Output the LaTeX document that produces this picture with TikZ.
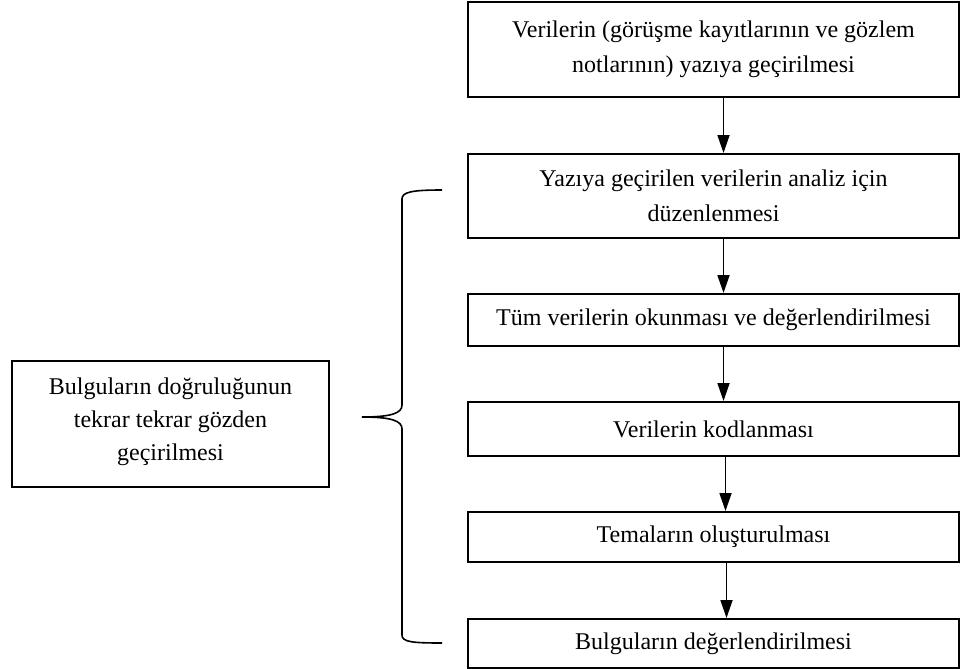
\documentclass[tikz,border=0pt]{standalone}
\usepackage{fontspec}
\setmainfont{Liberation Serif}
\usetikzlibrary{arrows.meta}
\begin{document}
\begin{tikzpicture}[x=1pt,y=-1pt,
 box/.style={draw, line width=2pt, minimum width=491pt, align=center, inner sep=0pt, font=\fontsize{24}{35}\selectfont},
 arr/.style={line width=1.8pt, -{Triangle[width=12pt,length=18pt]}},
 brace/.style={line width=1.6pt}]
\useasboundingbox (0,0) rectangle (961,669);
\node[box, minimum height=95pt] (b1) at (713.5,49.5) {Verilerin (görüşme kayıtlarının ve gözlem\\notlarının) yazıya geçirilmesi};
\node[box, minimum height=84pt] (b2) at (713.5,196) {Yazıya geçirilen verilerin analiz için\\düzenlenmesi};
\node[box, minimum height=52pt] (b3) at (713.5,320) {Tüm verilerin okunması ve değerlendirilmesi};
\node[box, minimum height=54pt] (b4) at (713.5,429) {Verilerin kodlanması};
\node[box, minimum height=50pt] (b5) at (713.5,537) {Temaların oluşturulması};
\node[box, minimum height=49pt] (b6) at (713.5,643.5) {Bulguların değerlendirilmesi};
\node[box, minimum width=317pt, minimum height=126pt, text height=80pt, text depth=8pt, font=\fontsize{24}{33}\selectfont] (left) at (170.5,424) {Bulguların doğruluğunun\\tekrar tekrar gözden\\geçirilmesi};
\draw[arr] ([xshift=10pt]b1.south) -- ([xshift=10pt]b2.north);
\draw[arr] ([xshift=10pt]b2.south) -- ([xshift=10pt]b3.north);
\draw[arr] ([xshift=10pt]b3.south) -- ([xshift=10pt]b4.north);
\draw[arr] ([xshift=12pt]b4.south) -- ([xshift=12pt]b5.north);
\draw[arr] ([xshift=13pt]b5.south) -- ([xshift=13pt]b6.north);
\coordinate (btop) at (442,190);
\coordinate (bmid) at (362,417);
\coordinate (bbot) at (442,643);
\draw[brace] (btop) .. controls (412,190) and (402,192) .. (402,199) -- (402,405)
  .. controls (402,413) and (392,417) .. (bmid)
  .. controls (392,417) and (402,421) .. (402,429) -- (402,635)
  .. controls (402,642) and (412,643) .. (bbot);
\end{tikzpicture}
\end{document}
